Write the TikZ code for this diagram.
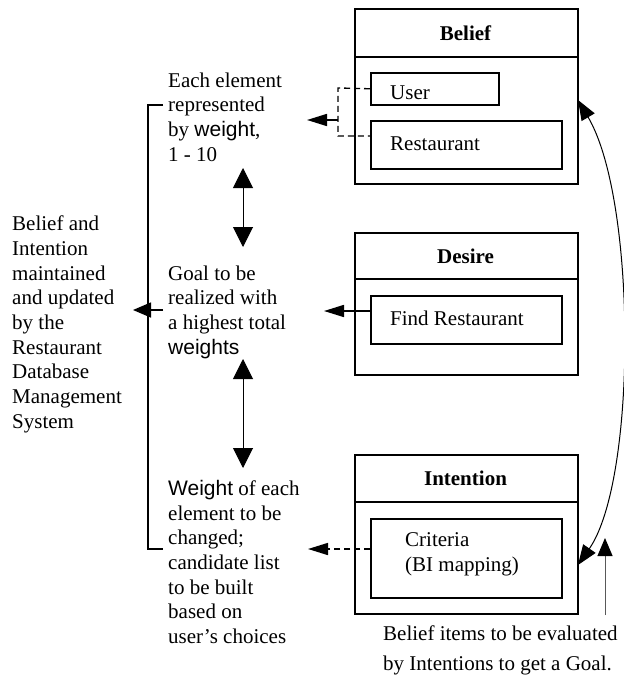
\documentclass[tikz,border=0pt]{standalone}
\usepackage{fontspec}
\setmainfont{Liberation Serif}
\newfontfamily\arialfont{Liberation Sans}
\usetikzlibrary{arrows.meta}
\newcommand{\wt}[1]{{\arialfont #1}}

\begin{document}
\begin{tikzpicture}[x=1pt, y=-1pt]
  \tikzset{
    txt/.style={font=\fontsize{21}{24.7}\selectfont, inner sep=0pt, align=left, anchor=north west},
    title_txt/.style={font=\fontsize{21}{25}\selectfont\bfseries, inner sep=0pt},
    outer_box/.style={draw, line width=1.6pt, minimum width=223, inner sep=0pt, anchor=north west},
    inner_box/.style={draw, line width=1.6pt, inner sep=0pt, anchor=north west},
    divider/.style={line width=1.2pt},
    small_tip/.style={-{Triangle[length=20pt, width=12pt]}},
    big_tips/.style={{Triangle[length=20pt, width=20pt]}-{Triangle[length=20pt, width=20pt]}},
    dash_line/.style={line width=1.4pt, dash pattern=on 6pt off 4pt}
  }
  \useasboundingbox (0,0) rectangle (623,679);

  % belief
  \node[outer_box, minimum height=175] (belief) at (354,8) {};
  \draw[divider] (354,57) -- (577,57);
  \node[title_txt] (belief_title) at (465.5,33) {Belief};
  \node[inner_box, minimum width=128, minimum height=32] (user) at (370,72) {};
  \node[txt, anchor=base west] (user_txt) at (390,100) {User};
  \node[inner_box, minimum width=191, minimum height=48] (restaurant) at (370,120) {};
  \node[txt, anchor=base west] (restaurant_txt) at (390,150) {Restaurant};

  % desire
  \node[outer_box, minimum height=142] (desire) at (354,232) {};
  \draw[divider] (354,279) -- (577,279);
  \node[title_txt] (desire_title) at (465.5,256) {Desire};
  \node[inner_box, minimum width=191, minimum height=48] (find) at (370,295) {};
  \node[txt, anchor=base west] (find_txt) at (390,325) {Find Restaurant};

  % intention
  \node[outer_box, minimum height=159] (intention) at (354,454) {};
  \draw[divider] (354,502) -- (577,502);
  \node[title_txt] (intention_title) at (465.5,478) {Intention};
  \node[inner_box, minimum width=191, minimum height=79] (criteria) at (370,518) {};
  \node[txt] (criteria_txt) at (405,532.5) {Criteria\\(BI mapping)};

  % notes
  \node[txt] (weight_note) at (168,72.5) {Each element\\represented\\by \wt{weight},\\1 - 10};
  \node[txt] (goal_note) at (168,265.5) {Goal to be\\realized with\\a highest total\\\wt{weights}};
  \node[txt] (change_note) at (168,480) {\wt{Weight} of each\\element to be\\changed;\\candidate list\\to be built\\based on\\user's choices};
  \node[txt] (db_note) at (12,215.7) {Belief and\\Intention\\maintained\\and updated\\by the\\Restaurant\\Database\\Management\\System};
  \node[txt, font=\fontsize{21}{30}\selectfont] (eval_note) at (383,625.5) {Belief items to be evaluated\\by Intentions to get a Goal.};

  % characteristic coordinates
  \coordinate (b_low) at (370,136);
  \coordinate (b_split) at (338,120);
  \coordinate (b_tip) at (307,120);
  \coordinate (d_out) at (370,311);
  \coordinate (d_tip) at (324,311);
  \coordinate (i_out) at (370,549);
  \coordinate (i_tip) at (308,549);
  \coordinate (br_top) at (163,105);
  \coordinate (br_bot) at (163,549);
  \coordinate (br_out) at (163,310);
  \coordinate (br_tip) at (133,310);
  \coordinate (wg_top) at (243,168);
  \coordinate (wg_bot) at (243,247);
  \coordinate (gc_top) at (243,359);
  \coordinate (gc_bot) at (243,468);
  \coordinate (belief_hook) at (578,100);
  \coordinate (intent_hook) at (578,565);
  \coordinate (eval_foot) at (605,615);
  \coordinate (eval_tip) at (605,538);

  % connectors
  \draw[dash_line] (user.west) -- (338,88) -- (338,136) -- (b_low);
  \draw[line width=1.6pt, small_tip] (b_split) -- (b_tip);
  \draw[line width=1.6pt, small_tip] (d_out) -- (d_tip);
  \draw[dash_line, line width=1.6pt, small_tip] (i_out) -- (i_tip);
  \draw[line width=1.6pt] (br_top) -- (148,105) -- (148,549) -- (br_bot);
  \draw[line width=1.6pt, -{Triangle[length=18pt, width=15pt]}] (br_out) -- (br_tip);
  \draw[line width=1pt, big_tips] (wg_top) -- (wg_bot);
  \draw[line width=1pt, big_tips] (gc_top) -- (gc_bot);
  \draw[line width=1pt, {Triangle[length=20pt, width=15pt]}-{Triangle[length=20pt, width=15pt]}]
    (belief_hook) .. controls (637,200) and (637,480) .. (intent_hook);
  \draw[line width=1pt, draw=gray!70!black, -{Triangle[length=18pt, width=15pt, color=black]}]
    (eval_foot) -- (eval_tip);
\end{tikzpicture}
\end{document}
